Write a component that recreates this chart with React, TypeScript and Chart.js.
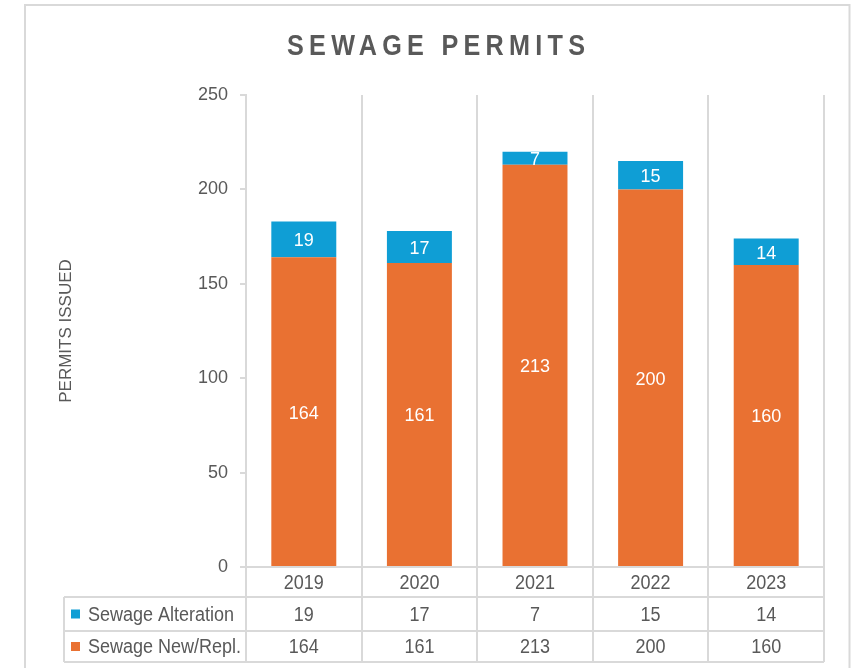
import { useEffect, useRef } from 'react';
import { Chart, registerables } from 'chart.js';

Chart.register(...registerables);

const years = ['2019', '2020', '2021', '2022', '2023'];
const alteration = [19, 17, 7, 15, 14];
const newRepl = [164, 161, 213, 200, 160];
const seriesNames = ['Sewage Alteration', 'Sewage New/Repl.'];
const titleText = 'SEWAGE PERMITS';
const yTitleText = 'PERMITS ISSUED';
const yMin = 0;
const yMax = 250;
const yStep = 50;

const GRID = '#d9d9d9';
const TEXT = '#595959';
const ORANGE = '#E97132';
const BLUE = '#0F9ED5';
const FONT = '"Liberation Sans", Arial, sans-serif';

// draw text horizontally condensed (narrow font look)
function narrowText(ctx: CanvasRenderingContext2D, text: string, x: number, y: number, align: 'left' | 'center', sx: number) {
  ctx.save();
  ctx.translate(x, y);
  ctx.scale(sx, 1);
  ctx.textAlign = align;
  ctx.fillText(text, 0, 0);
  ctx.restore();
}

const decor = {
  id: 'decor',
  afterDatasetsDraw(chart: any) {
    const ctx = chart.ctx;
    ctx.save();
    ctx.font = `18px ${FONT}`;
    ctx.fillStyle = '#ffffff';
    ctx.textAlign = 'center';
    ctx.textBaseline = 'middle';
    chart.data.datasets.forEach((ds: any, i: number) => {
      const meta = chart.getDatasetMeta(i);
      meta.data.forEach((el: any, j: number) => {
        const cy = (el.y + el.base) / 2;
        ctx.fillText(String(ds.data[j]), el.x, cy + 2);
      });
    });
    ctx.restore();
  },
  afterDraw(chart: any) {
    const ctx = chart.ctx;
    const area = chart.chartArea;
    const xs = chart.scales.x;
    ctx.save();
    // outer frame
    ctx.strokeStyle = GRID;
    ctx.lineWidth = 2;
    ctx.strokeRect(25, 5, 824.5, 700);

    // title, condensed with letter spacing
    const sx = 0.84;
    ctx.font = `bold 30px ${FONT}`;
    ctx.fillStyle = TEXT;
    const w = ctx.measureText(titleText).width * sx;
    const target = 298;
    const sp = (target - w) / (titleText.length - 1) / sx;
    (ctx as any).letterSpacing = sp + 'px';
    ctx.textBaseline = 'alphabetic';
    narrowText(ctx, titleText, 436 - target / 2, 55, 'left', sx);
    (ctx as any).letterSpacing = '0px';

    // data table
    const n = years.length;
    const colW = (xs.right - xs.left) / n;
    const tableLeft = 64;
    const r0 = area.bottom;
    const r1 = r0 + 30;
    const r2 = r1 + 34;
    const r3 = r2 + 31;
    ctx.strokeStyle = GRID;
    ctx.lineWidth = 2;
    ctx.beginPath();
    for (let i = 0; i <= n; i++) {
      const x = Math.round(xs.left + i * colW);
      ctx.moveTo(x, r0);
      ctx.lineTo(x, r3);
    }
    [r1, r2, r3].forEach((y) => {
      ctx.moveTo(tableLeft, y);
      ctx.lineTo(xs.right, y);
    });
    ctx.moveTo(tableLeft, r1);
    ctx.lineTo(tableLeft, r3);
    ctx.stroke();

    const tsx = 0.9;
    ctx.font = `20px ${FONT}`;
    ctx.textBaseline = 'middle';
    ctx.fillStyle = TEXT;
    years.forEach((yr, j) => {
      narrowText(ctx, yr, xs.getPixelForValue(j), (r0 + r1) / 2 + 1, 'center', tsx);
    });

    const rows = [
      { name: seriesNames[0], color: BLUE, values: alteration, cy: (r1 + r2) / 2 },
      { name: seriesNames[1], color: ORANGE, values: newRepl, cy: (r2 + r3) / 2 },
    ];
    rows.forEach((row) => {
      ctx.fillStyle = row.color;
      ctx.fillRect(71, row.cy - 4.5, 9, 9);
      ctx.fillStyle = TEXT;
      narrowText(ctx, row.name, 88, row.cy + 1, 'left', tsx);
      row.values.forEach((v, j) => {
        narrowText(ctx, String(v), xs.getPixelForValue(j), row.cy + 1, 'center', tsx);
      });
    });
    ctx.restore();
  },
};

export default function App() {
  const ref = useRef<HTMLCanvasElement>(null);
  useEffect(() => {
    if (!ref.current) return;
    const chart = new Chart(ref.current, {
      type: 'bar',
      data: {
        labels: years,
        datasets: [
          {
            label: seriesNames[1],
            data: newRepl,
            backgroundColor: ORANGE,
            barPercentage: 0.562,
            categoryPercentage: 1,
          },
          {
            label: seriesNames[0],
            data: alteration,
            backgroundColor: BLUE,
            barPercentage: 0.562,
            categoryPercentage: 1,
          },
        ],
      },
      options: {
        responsive: false,
        animation: false,
        devicePixelRatio: 1,
        layout: { padding: { left: 0, top: 95, right: 29, bottom: 0 } },
        plugins: {
          legend: { display: false },
          tooltip: { enabled: false },
          title: { display: false },
        },
        scales: {
          x: {
            stacked: true,
            afterFit: (s: any) => {
              s.height = 101;
            },
            grid: { color: GRID, lineWidth: 2, drawTicks: false, offset: true },
            border: { color: GRID, width: 2 },
            ticks: { display: false },
          },
          y: {
            stacked: true,
            min: yMin,
            max: yMax,
            afterFit: (s: any) => {
              s.width = 246;
            },
            grid: { drawOnChartArea: false, drawTicks: true, tickLength: 6, color: GRID, lineWidth: 2 },
            border: { color: GRID, width: 2 },
            ticks: {
              stepSize: yStep,
              color: TEXT,
              font: { family: FONT, size: 18 },
              padding: 12,
            },
            title: {
              display: true,
              text: yTitleText,
              color: TEXT,
              font: { family: FONT, size: 17 },
              padding: { top: 56, bottom: 0 },
            },
          },
        },
      },
      plugins: [decor],
    });
    return () => chart.destroy();
  }, []);
  return (
    <div style={{ position: 'absolute', left: 0, top: 0, width: 853, height: 668, background: '#fff' }}>
      <canvas ref={ref} width={853} height={668} />
    </div>
  );
}
